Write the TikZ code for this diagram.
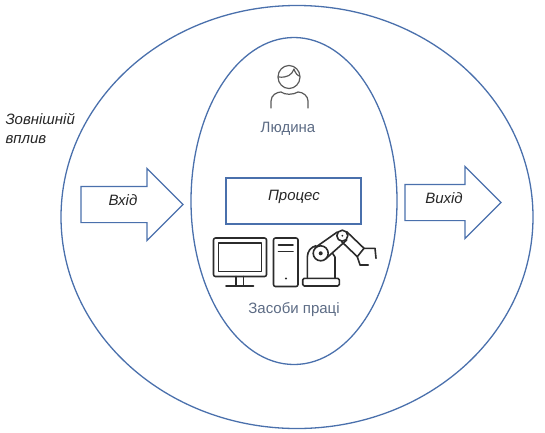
\documentclass[tikz,border=0pt]{standalone}
\usepackage{fontspec}
\setmainfont{Liberation Sans}
\usetikzlibrary{positioning,shapes.geometric,shapes.arrows}
\definecolor{lineblue}{HTML}{4A70AC}
\definecolor{labelgray}{HTML}{5C6B84}
\definecolor{icongray}{HTML}{5A5A5A}
\definecolor{icondark}{HTML}{2B2B2B}

\begin{document}
\begin{tikzpicture}[
  x=1pt, y=-1pt,
  font=\fontsize{15}{17}\selectfont,
  every node/.style={align=center},
  oval/.style={ellipse, draw=lineblue, line width=1.3pt, inner sep=0pt},
  proc/.style={rectangle, draw=lineblue, line width=1.1pt,
               minimum width=135pt, minimum height=46pt, inner sep=2pt},
  flow/.style={single arrow, draw=lineblue, line width=1.2pt, inner xsep=0pt, inner ysep=17.5pt,
               single arrow tip angle=90, single arrow head indent=0pt,
               single arrow head extend=18pt},
  note/.style={font=\fontsize{15}{19}\selectfont\itshape, text=black!85},
  tag/.style={text=labelgray},
  iconp/.style={draw=icongray, line width=1.2pt, line cap=round, line join=round},
  icond/.style={draw=icondark, line width=1.6pt, line cap=round, line join=round},
]
\useasboundingbox (0,0) rectangle (545,432);

% Two ovals
\node[oval, minimum width=472pt, minimum height=423pt] (outer) at (297,217) {};
\node[oval, minimum width=206pt, minimum height=327pt] (inner) at (294,201) {};

% Process box and the two flows
\node[proc] (proc) at (293.5,201) {};
\node[note] (proctext) at (294,197) {Процес};
\node[flow, minimum height=102pt] (in) at (123,204.5) {};
\node[flow, minimum height=96pt] (out) at (444,202.5) {};
\node[note] (intext) at (123,200.5) {Вхід};
\node[note] (outtext) at (444,198) {Вихід};

% Labels
\node[note, anchor=west, align=left] (env) at (2,129) {Зовнішній\\вплив};
\node[tag] (human) at (288,129) {Людина};
\node[tag] (tools) at (294,309.5) {Засоби праці};

% Person icon
\draw[iconp] (289,77) ellipse [x radius=11, y radius=11.5];
\draw[iconp] (278.5,77) .. controls (287,78) and (292,75) .. (294,69)
             .. controls (295,73) and (298,76) .. (299.5,76);
\draw[iconp] (271,108) -- (271,101) .. controls (271,95) and (277,92) .. (281,92)
             .. controls (285,95) and (293,95) .. (298,92)
             .. controls (303,92) and (308,96) .. (308,101) -- (308,108);

% Monitor
\draw[icond, rounded corners=2pt] (213.5,238) rectangle (266.5,276.5);
\draw[icond] (218.5,243) rectangle (261.5,271.5);
\draw[icond] (236,276.5) -- (236,286) (243.5,276.5) -- (243.5,286);
\draw[icond] (226,286) -- (253.5,286);

% Tower
\draw[icond, rounded corners=2pt] (273.5,238) rectangle (298,286.5);
\draw[icond] (278.5,245) -- (293,245) (278.5,251.5) -- (293,251.5);
\fill[icondark] (286,278.5) circle (1.2);

% Robot arm
\draw[icond, rounded corners=1.5pt] (302.7,278.3) rectangle (339.3,286);
\draw[icond] (307.3,278.3) -- (307.3,257) .. controls (307.5,251) and (311,247) .. (316,245.7);
\draw[icond] (335,278.3) -- (335,257) -- (332.3,253);
\draw[icond] (320.7,253.3) circle (7.5);
\fill[icondark] (320.7,253.3) circle (2);
\draw[icond] (342.3,235.7) circle (5.5);
\fill[icondark] (342.3,235.7) circle (1);
\draw[icond] (315,247.7) -- (337.3,232) (325.5,259) -- (346.7,240);
\draw[icond] (346.7,231.7) -- (364,248.3) -- (357.3,256.7) -- (341.7,241.7);
\draw[icond] (364,248.3) -- (375,248.3) -- (376,258.3);
\draw[icond] (357.3,256.7) -- (360,265) -- (368.3,265);

\end{tikzpicture}
\end{document}
